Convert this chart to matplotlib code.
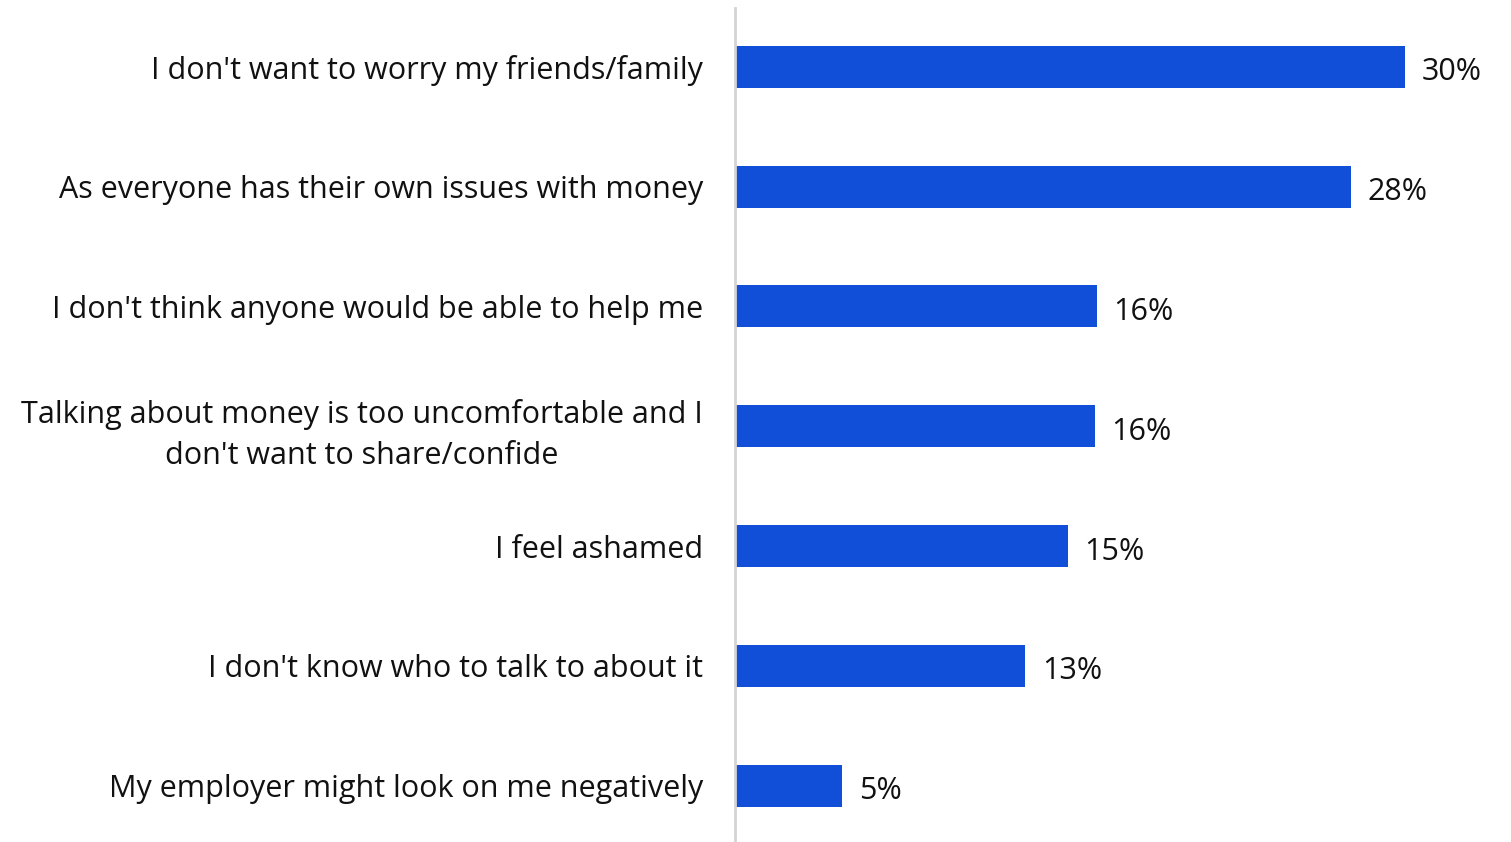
import matplotlib
matplotlib.use("Agg")
import matplotlib.pyplot as plt

categories = [
    "I don't want to worry my friends/family",
    "As everyone has their own issues with money",
    "I don't think anyone would be able to help me",
    "Talking about money is too uncomfortable and I\ndon't want to share/confide",
    "I feel ashamed",
    "I don't know who to talk to about it",
    "My employer might look on me negatively",
]
values = [30.0, 27.6, 16.2, 16.1, 14.9, 13.0, 4.8]

BAR_COLOR = "#124FD9"
plt.rcParams["font.family"] = ["Open Sans", "DejaVu Sans"]

W, H = 1511, 842
fig = plt.figure(figsize=(W / 100, H / 100), dpi=100)
ax_left = 735 / W
ax = fig.add_axes([ax_left, 0, 1 - ax_left, (H - 8) / H])

y = list(range(len(categories)))
ax.barh(y, values, height=0.35, color=BAR_COLOR, zorder=2)

px_per_unit = 22.33
ax.set_xlim(0, (W - 735) / px_per_unit)
ax.set_ylim(len(categories) - 0.53, -0.49)

for yi, v in zip(y, values):
    ax.annotate(f"{round(v):.0f}%", xy=(v, yi), xytext=(12, -4),
                textcoords="offset points", ha="left", va="center",
                fontsize=22, color="#111111")

ax.set_yticks(y)
ax.set_yticklabels(categories, fontsize=22, color="#111111",
                   multialignment="center", linespacing=1.45)
ax.tick_params(axis="y", length=0, pad=23)
ax.set_xticks([])

for side in ["top", "right", "bottom"]:
    ax.spines[side].set_visible(False)
ax.spines["left"].set_color("#d4d4d4")
ax.spines["left"].set_linewidth(2)

fig.savefig("out.png", dpi=100)
